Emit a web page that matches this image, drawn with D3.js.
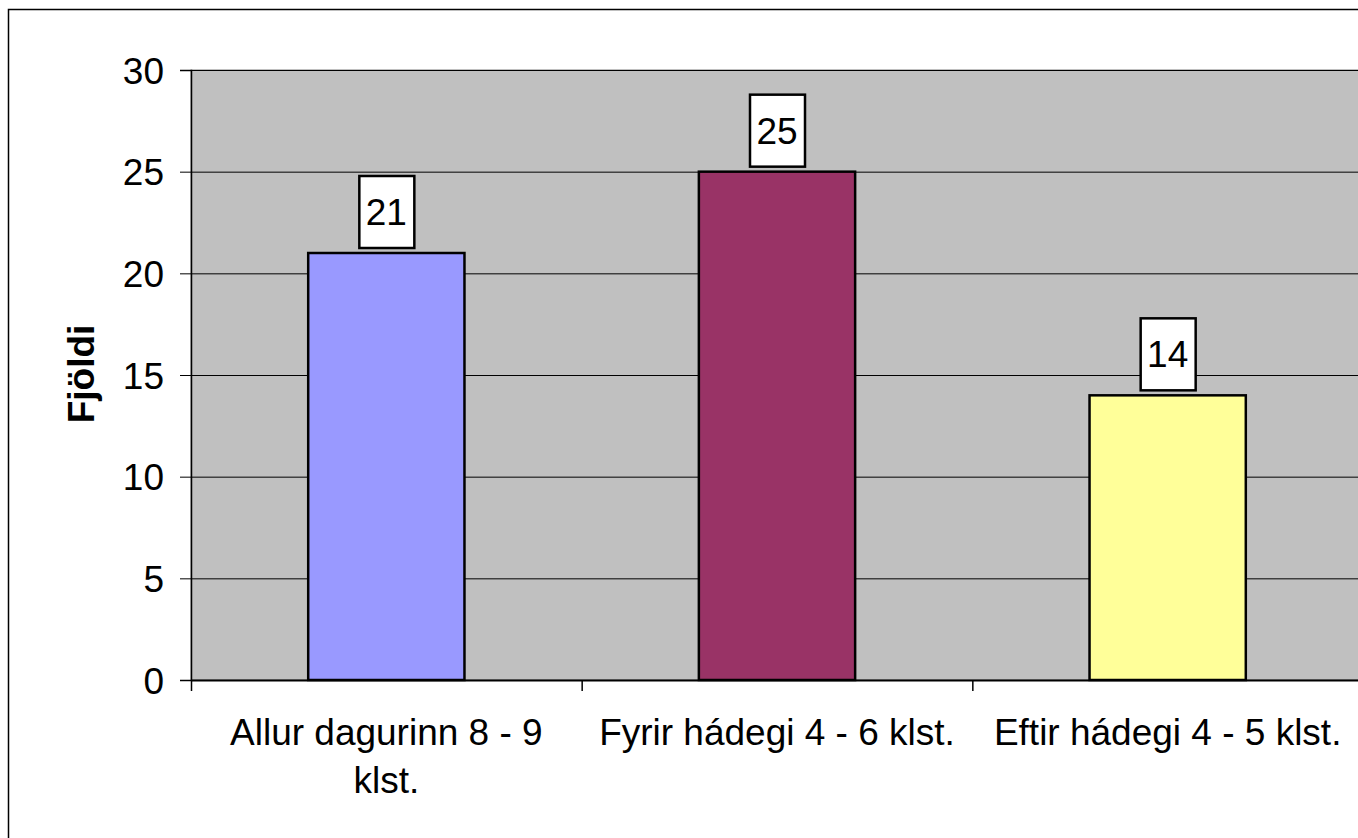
<!DOCTYPE html>
<html>
<head>
<meta charset="utf-8">
<script src="https://cdn.jsdelivr.net/npm/d3@7"></script>
<style>
  body { margin: 0; background: #fff; }
  text { font-family: Arial, "Liberation Sans", sans-serif; fill: #000; }
</style>
</head>
<body>
<div id="vis"></div>
<script>
var categories = ["Allur dagurinn 8 - 9 klst.", "Fyrir hádegi 4 - 6 klst.", "Eftir hádegi 4 - 5 klst."];
var values = [21, 25, 14];
var barColors = ["#9999ff", "#993366", "#ffff99"];
var yTicks = [0, 5, 10, 15, 20, 25, 30];

var width = 1358,
    height = 838;

var svg = d3.select("#vis").append("svg")
    .attr("width", width)
    .attr("height", height);

// outer chart frame, runs off the right/bottom edge
svg.append("rect")
    .attr("x", 8.5).attr("y", 9.5)
    .attr("width", 1400).attr("height", 900)
    .attr("fill", "#fff")
    .attr("stroke", "#000")
    .attr("stroke-width", 1.5);

var plot = { left: 191, top: 70, bottom: 680, right: 1363 };

var x = d3.scaleBand()
    .domain(categories)
    .range([plot.left, plot.right]);

var y = d3.scaleLinear()
    .domain([0, 30])
    .range([plot.bottom, plot.top]);

svg.append("rect")
    .attr("x", plot.left).attr("y", plot.top)
    .attr("width", plot.right - plot.left)
    .attr("height", plot.bottom - plot.top)
    .attr("fill", "#c0c0c0")
    .attr("stroke", "#808080")
    .attr("stroke-width", 1);

// gridlines
svg.append("g").selectAll("line")
    .data(yTicks.filter(function(d) { return d > 0; }))
    .enter().append("line")
      .attr("x1", plot.left).attr("x2", plot.right)
      .attr("y1", function(d) { return y(d) + 0.5; })
      .attr("y2", function(d) { return y(d) + 0.5; })
      .attr("stroke", "#000")
      .attr("stroke-width", 1);

// y axis
var yAxis = svg.append("g")
    .attr("transform", "translate(" + plot.left + ",0)")
    .call(d3.axisLeft(y).tickValues(yTicks).tickSize(11).tickPadding(16));
yAxis.select(".domain").attr("stroke", "#000").attr("stroke-width", 1.5);
yAxis.selectAll(".tick line").attr("stroke", "#000");
yAxis.selectAll("text")
    .style("font-size", "37px")
    .style("font-family", "Arial, 'Liberation Sans', sans-serif")
    .attr("dy", "0.36em");

// x axis
var xAxis = svg.append("g")
    .attr("transform", "translate(0," + plot.bottom + ")")
    .call(d3.axisBottom(x).tickSize(0).tickPadding(0));
xAxis.select(".domain").attr("stroke", "#000").attr("stroke-width", 2);
xAxis.selectAll(".tick text").remove();

// category boundary ticks
var bounds = categories.map(function(c) { return x(c); });
svg.append("g").selectAll("line")
    .data(bounds)
    .enter().append("line")
      .attr("x1", function(d) { return d + 0.5; })
      .attr("x2", function(d) { return d + 0.5; })
      .attr("y1", plot.bottom).attr("y2", plot.bottom + 11)
      .attr("stroke", "#000")
      .attr("stroke-width", 1.5);

// category labels with wrapping
var labels = svg.append("g").selectAll("text")
    .data(categories)
    .enter().append("text")
      .attr("x", function(d) { return x(d) + x.bandwidth() / 2; })
      .attr("y", 745)
      .attr("text-anchor", "middle")
      .style("font-size", "37px")
      .text(function(d) { return d; });

labels.each(function(d) {
  var t = d3.select(this);
  var words = d.split(" "), line = [], lines = [];
  t.text(null);
  var tmp = t.append("tspan");
  words.forEach(function(w) {
    line.push(w);
    tmp.text(line.join(" "));
    if (tmp.node().getComputedTextLength() > 380 && line.length > 1) {
      line.pop();
      lines.push(line.join(" "));
      line = [w];
    }
  });
  lines.push(line.join(" "));
  tmp.remove();
  lines.forEach(function(l, i) {
    t.append("tspan")
      .attr("x", t.attr("x"))
      .attr("dy", i === 0 ? 0 : 48)
      .text(l);
  });
});

// bars
var bw = x.bandwidth() * 0.4;
svg.append("g").selectAll("rect")
    .data(values)
    .enter().append("rect")
      .attr("x", function(d, i) { return x(categories[i]) + (x.bandwidth() - bw) / 2; })
      .attr("y", function(d) { return y(d); })
      .attr("width", bw)
      .attr("height", function(d) { return y(0) - y(d); })
      .attr("fill", function(d, i) { return barColors[i]; })
      .attr("stroke", "#000")
      .attr("stroke-width", 2.5);

// value label boxes
var lab = svg.append("g").selectAll("g")
    .data(values)
    .enter().append("g")
      .attr("transform", function(d, i) {
        return "translate(" + (x(categories[i]) + x.bandwidth() / 2) + "," + (y(d) - 5) + ")";
      });
lab.append("rect")
    .attr("x", -27).attr("y", -72)
    .attr("width", 55).attr("height", 72)
    .attr("fill", "#fff")
    .attr("stroke", "#000")
    .attr("stroke-width", 2.5);
lab.append("text")
    .attr("x", 0).attr("y", -23)
    .attr("text-anchor", "middle")
    .style("font-size", "37px")
    .text(function(d) { return d; });

// y title
svg.append("text")
    .attr("transform", "translate(94,374) rotate(-90)")
    .attr("text-anchor", "middle")
    .style("font-size", "37px")
    .style("font-weight", "bold")
    .text("Fjöldi");
</script>
</body>
</html>
